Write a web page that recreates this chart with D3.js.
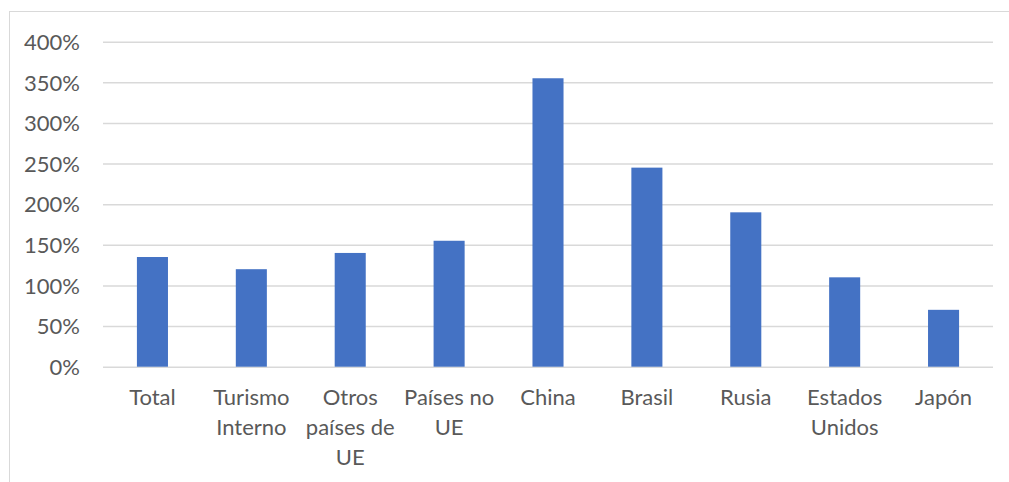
<!DOCTYPE html>
<html>
<head>
<meta charset="utf-8">
<script src="https://cdn.jsdelivr.net/npm/d3@7"></script>
<style>
  html, body { margin: 0; padding: 0; background: #fff; }
  svg { display: block; }
  .tick text { font-family: Lato, "Open Sans", sans-serif; font-size: 22px; fill: #595959; }
</style>
</head>
<body>
<svg id="chart" width="1009" height="482"></svg>
<script>
// Categories (line breaks mark where each label wraps)
const categories = [
  "Total",
  "Turismo\nInterno",
  "Otros\npaíses de\nUE",
  "Países no\nUE",
  "China",
  "Brasil",
  "Rusia",
  "Estados\nUnidos",
  "Japón"
];
// Growth, in percent
const values = [135, 120, 140, 155, 355, 245, 190, 110, 70];
// Y-axis ticks
const yTicks = [0, 50, 100, 150, 200, 250, 300, 350, 400];

const svg = d3.select("#chart");
const W = 1009, H = 482;

// outer chart frame
svg.append("rect")
  .attr("x", 9.5).attr("y", 11.5)
  .attr("width", W + 10).attr("height", H + 10)
  .attr("fill", "none").attr("stroke", "#d9d9d9").attr("stroke-width", 1);

const plot = { left: 103, right: 993, top: 41.7, bottom: 366.7 };

const x = d3.scaleBand()
  .domain(categories)
  .range([plot.left, plot.right])
  .paddingInner(0.686)
  .paddingOuter(0.343);

const y = d3.scaleLinear()
  .domain([0, 400])
  .range([plot.bottom, plot.top]);

// horizontal gridlines + y labels
const yAxis = svg.append("g")
  .attr("transform", `translate(${plot.left},0)`)
  .call(d3.axisLeft(y)
    .tickValues(yTicks)
    .tickFormat(d => d + "%")
    .tickSize(-(plot.right - plot.left))
    .tickPadding(23));
yAxis.select(".domain").remove();
yAxis.selectAll(".tick line").attr("stroke", "#d9d9d9").attr("stroke-width", 1.5);
yAxis.selectAll(".tick text").attr("dy", "0.35em");

// bars
svg.append("g").selectAll("rect")
  .data(values)
  .join("rect")
  .attr("x", (d, i) => x(categories[i]))
  .attr("width", x.bandwidth())
  .attr("y", d => y(d))
  .attr("height", d => y(0) - y(d))
  .attr("fill", "#4472c4");

// category labels, wrapped onto several lines
const xAxis = svg.append("g")
  .attr("transform", `translate(0,${plot.bottom})`)
  .call(d3.axisBottom(x).tickSize(0).tickPadding(0));
xAxis.select(".domain").remove();
xAxis.selectAll(".tick text")
  .text(null)
  .attr("y", 0)
  .attr("dy", null)
  .each(function(d) {
    const lines = d.split("\n");
    const t = d3.select(this);
    lines.forEach((ln, k) => {
      t.append("tspan")
        .attr("x", 0)
        .attr("y", 38 + k * 30)
        .text(ln);
    });
  });
</script>
</body>
</html>
